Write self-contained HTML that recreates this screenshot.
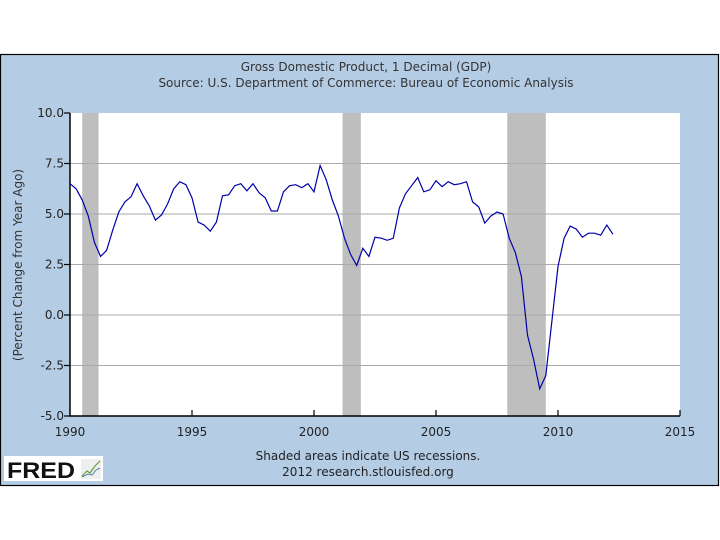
<!DOCTYPE html>
<html><head><meta charset="utf-8"><style>
html,body{margin:0;padding:0;background:#fff;}
svg{display:block;font-family:"DejaVu Sans","Liberation Sans",sans-serif;}
</style></head><body>
<svg id="chart" width="720" height="540" viewBox="0 0 720 540">
<rect x="0.5" y="54.5" width="718" height="431" fill="#b4cde5" stroke="#000" stroke-width="1.2"/>
<text x="366" y="71" font-size="12" fill="#333" text-anchor="middle">Gross Domestic Product, 1 Decimal (GDP)</text>
<text x="366" y="87" font-size="12" fill="#333" text-anchor="middle">Source: U.S. Department of Commerce: Bureau of Economic Analysis</text>
<rect x="70" y="113" width="610" height="303" fill="#fff"/>
<g id="rec"></g><g id="grid"></g><g id="axes"></g>
<path id="line" fill="none" stroke="#0000aa" stroke-width="1.2"/>
<text transform="translate(22,265) rotate(-90)" font-size="12" fill="#333" text-anchor="middle">(Percent Change from Year Ago)</text>
<text x="368" y="460" font-size="12" fill="#222" text-anchor="middle">Shaded areas indicate US recessions.</text>
<text x="368" y="476" font-size="12" fill="#222" text-anchor="middle">2012 research.stlouisfed.org</text>
<g>
<rect x="4" y="456" width="99" height="25" fill="#fff"/>
<text x="7" y="478" font-size="22" font-weight="bold" fill="#111" font-family="Liberation Sans,sans-serif" textLength="68" lengthAdjust="spacingAndGlyphs">FRED</text>
<rect x="81" y="459" width="20" height="20" fill="#eef0f0"/>
<polyline points="82,476 87,471 90,473 95,466 100,461" fill="none" stroke="#6a9a3a" stroke-width="1.2"/>
<polyline points="82,477 88,474 92,475 96,470 100,468" fill="none" stroke="#5a7fb0" stroke-width="1"/>
</g>
</svg>
<script>
const years = [1990,1995,2000,2005,2010,2015];
const yTicks = [-5,-2.5,0,2.5,5,7.5,10];
const yTickLabels = ["-5.0","-2.5","0.0","2.5","5.0","7.5","10.0"];
const recessionStarts = [1990.5,2001.17,2007.92];
const recessionEnds = [1991.17,2001.92,2009.5];
const startYear = 1990;
const gdpChange = [
6.5,6.25,5.7,4.9, 3.6,2.9,3.2,4.2, 5.1,5.6,5.85,6.5, 5.9,5.4,4.7,4.95,
5.5,6.25,6.6,6.45, 5.8,4.6,4.45,4.15, 4.6,5.9,5.95,6.4, 6.5,6.15,6.5,6.05,
5.8,5.15,5.15,6.1, 6.4,6.45,6.3,6.5, 6.1,7.4,6.7,5.7, 4.9,3.8,3.0,2.45,
3.3,2.9,3.85,3.8, 3.7,3.8,5.3,6.0, 6.4,6.8,6.1,6.2, 6.65,6.35,6.6,6.45,
6.5,6.6,5.6,5.35, 4.55,4.9,5.1,5.0, 3.8,3.1,1.9,-1.0, -2.2,-3.65,-3.0,-0.3,
2.4,3.8,4.4,4.25, 3.85,4.05,4.05,3.95, 4.45,4.0];
const X0=70,X1=680,Y0=416,Y1=113;
const xs=t=>X0+(t-1990)/25*(X1-X0);
const ys=v=>Y0-(v+5)/15*(Y0-Y1);
const NS='http://www.w3.org/2000/svg';
function mk(tag,attrs,parent){const e=document.createElementNS(NS,tag);for(const k in attrs)e.setAttribute(k,attrs[k]);document.getElementById(parent).appendChild(e);return e;}
recessionStarts.forEach((s,i)=>{
 const r=mk('rect',{x:xs(s),y:Y1,width:xs(recessionEnds[i])-xs(s),height:Y0-Y1,fill:'#bebebe'},'rec');
 
 
});
yTicks.forEach((v,i)=>{
 if(v>-5&&v<10){const g=mk('line',{x1:X0,x2:X1,y1:ys(v),y2:ys(v),stroke:'#aaa','stroke-width':1},'grid');
 
 }
 const t=mk('line',{x1:X0-6,x2:X0,y1:ys(v),y2:ys(v),stroke:'#000','stroke-width':1.2},'axes');
 
 
 const l=mk('text',{x:X0-6,y:ys(v)+4,'font-size':12,fill:'#222','text-anchor':'end'},'axes');
 l.textContent=yTickLabels[i];
 
 
});
years.forEach(y=>{
 if(y>1990){const t=mk('line',{x1:xs(y),x2:xs(y),y1:Y0-6,y2:Y0,stroke:'#000','stroke-width':1.2},'axes');
 
 }
 const l=mk('text',{x:xs(y),y:Y0+20,'font-size':12,fill:'#222','text-anchor':'middle'},'axes');
 l.textContent=y;
 
 
});
const ax=mk('path',{d:`M${X0},${Y1} V${Y0} H${X1}`,fill:'none',stroke:'#000','stroke-width':1.5},'axes');


document.getElementById('line').setAttribute('d',gdpChange.map((v,i)=>(i?'L':'M')+xs(startYear+i/4).toFixed(1)+','+ys(v).toFixed(1)).join(' '));
</script>
</body></html>
